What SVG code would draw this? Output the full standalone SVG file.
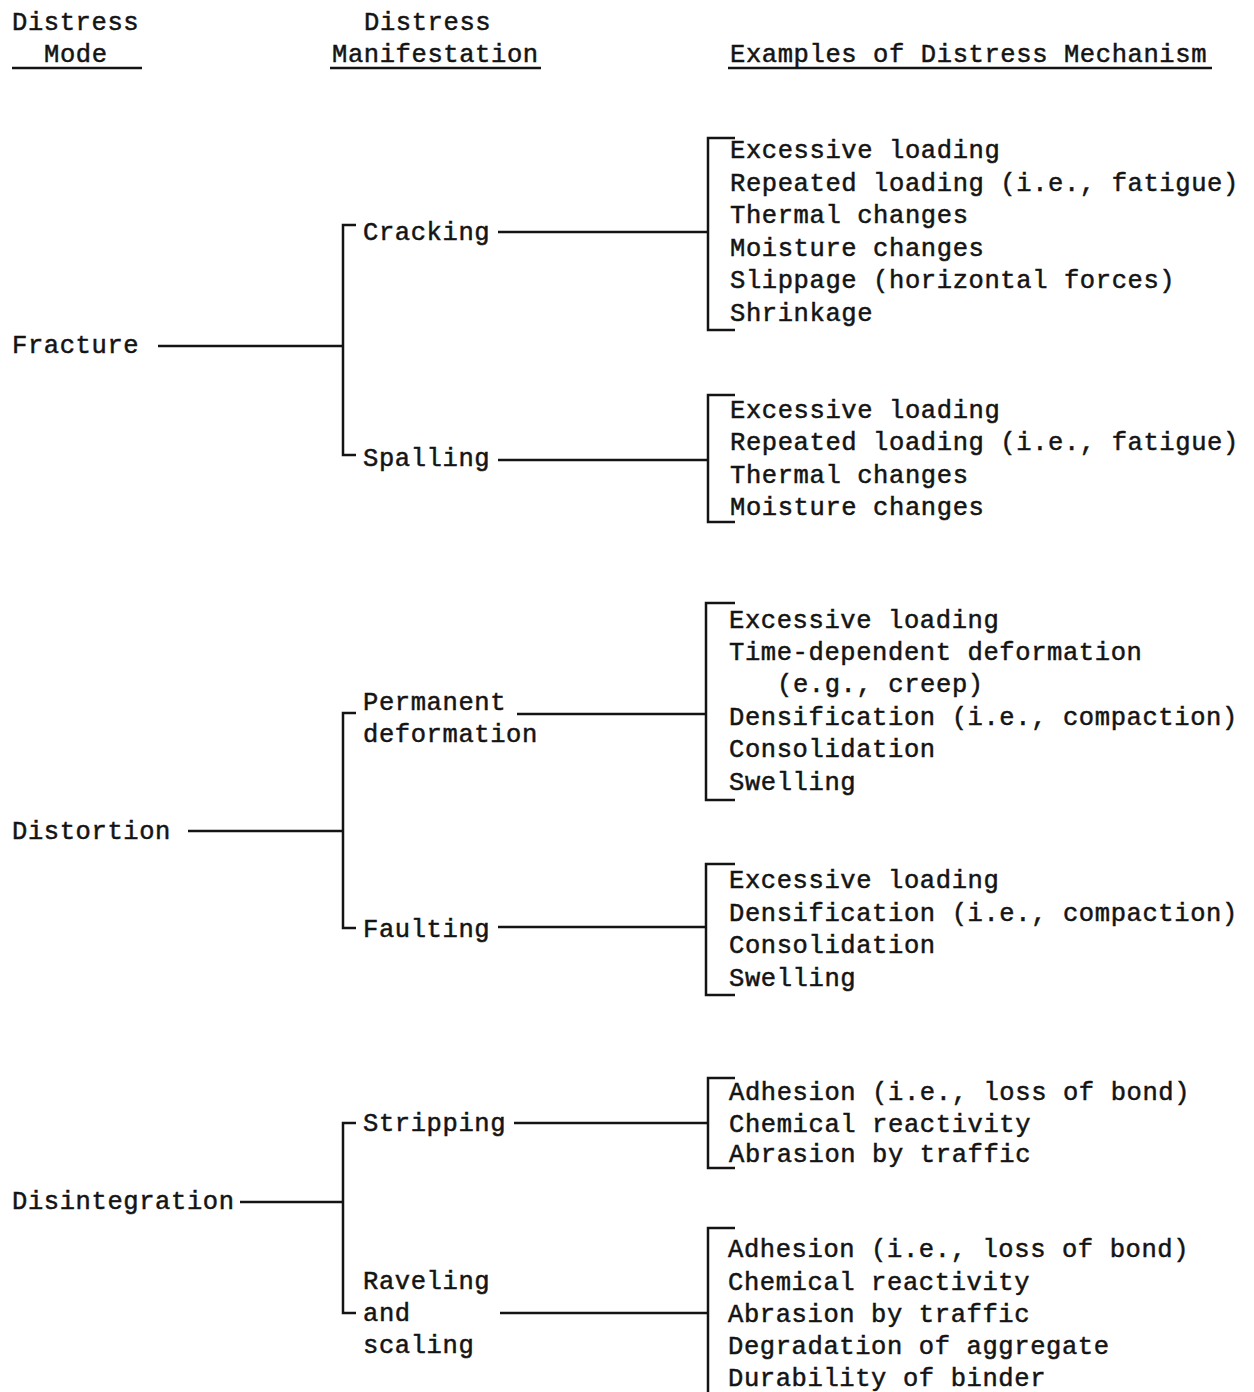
<svg xmlns="http://www.w3.org/2000/svg" width="1254" height="1392" viewBox="0 0 1254 1392">
<style>
text{font-family:"Liberation Mono","DejaVu Sans Mono",monospace;font-size:25.5px;letter-spacing:0.6px;fill:#141414;stroke:#141414;stroke-width:0.5}
.ln{stroke:#141414;stroke-width:2.5;fill:none}
</style>
<rect width="1254" height="1392" fill="#fff"/>
<g id="headers">
<text x="12" y="30">Distress</text>
<text x="44" y="62">Mode</text>
<text x="364" y="30">Distress</text>
<text x="332" y="62">Manifestation</text>
<text x="730" y="62">Examples of Distress Mechanism</text>
<path class="ln" d="M12 68H142M330 68H541M728 68H1212"/>
</g>
<g id="connectors" class="ln">
<path d="M158 346H343M356 225H343V455H356M498 232H708M498 460H708"/>
<path d="M735 138H708V330H735M735 395H708V522H735"/>
<path d="M188 831H343M356 713H343V928H356M517 714H706M498 927H706"/>
<path d="M735 603H706V800H735M735 864H706V995H735"/>
<path d="M240 1202H343M356 1123H343V1313H356M514 1123H708M500 1313H708"/>
<path d="M735 1078H708V1168H735M735 1228H708V1392"/>
</g>
<g id="fracture"><text x="12" y="353">Fracture</text></g>
<g id="cracking"><text x="363" y="240">Cracking</text></g>
<g id="cracking-mechanisms">
<text x="730" y="158">Excessive loading</text>
<text x="730" y="191">Repeated loading (i.e., fatigue)</text>
<text x="730" y="223">Thermal changes</text>
<text x="730" y="256">Moisture changes</text>
<text x="730" y="288">Slippage (horizontal forces)</text>
<text x="730" y="321">Shrinkage</text>
</g>
<g id="spalling"><text x="363" y="466">Spalling</text></g>
<g id="spalling-mechanisms">
<text x="730" y="418">Excessive loading</text>
<text x="730" y="450">Repeated loading (i.e., fatigue)</text>
<text x="730" y="483">Thermal changes</text>
<text x="730" y="515">Moisture changes</text>
</g>
<g id="distortion"><text x="12" y="839">Distortion</text></g>
<g id="permanent-deformation">
<text x="363" y="710">Permanent</text>
<text x="363" y="742">deformation</text>
</g>
<g id="permanent-mechanisms">
<text x="729" y="628">Excessive loading</text>
<text x="729" y="660">Time-dependent deformation</text>
<text x="777" y="692">(e.g., creep)</text>
<text x="729" y="725">Densification (i.e., compaction)</text>
<text x="729" y="757">Consolidation</text>
<text x="729" y="790">Swelling</text>
</g>
<g id="faulting"><text x="363" y="937">Faulting</text></g>
<g id="faulting-mechanisms">
<text x="729" y="888">Excessive loading</text>
<text x="729" y="921">Densification (i.e., compaction)</text>
<text x="729" y="953">Consolidation</text>
<text x="729" y="986">Swelling</text>
</g>
<g id="disintegration"><text x="12" y="1209">Disintegration</text></g>
<g id="stripping"><text x="363" y="1131">Stripping</text></g>
<g id="stripping-mechanisms">
<text x="729" y="1100">Adhesion (i.e., loss of bond)</text>
<text x="729" y="1132">Chemical reactivity</text>
<text x="729" y="1162">Abrasion by traffic</text>
</g>
<g id="raveling-scaling">
<text x="363" y="1289">Raveling</text>
<text x="363" y="1321">and</text>
<text x="363" y="1353">scaling</text>
</g>
<g id="raveling-mechanisms">
<text x="728" y="1257">Adhesion (i.e., loss of bond)</text>
<text x="728" y="1290">Chemical reactivity</text>
<text x="728" y="1322">Abrasion by traffic</text>
<text x="728" y="1354">Degradation of aggregate</text>
<text x="728" y="1386">Durability of binder</text>
</g>
</svg>
